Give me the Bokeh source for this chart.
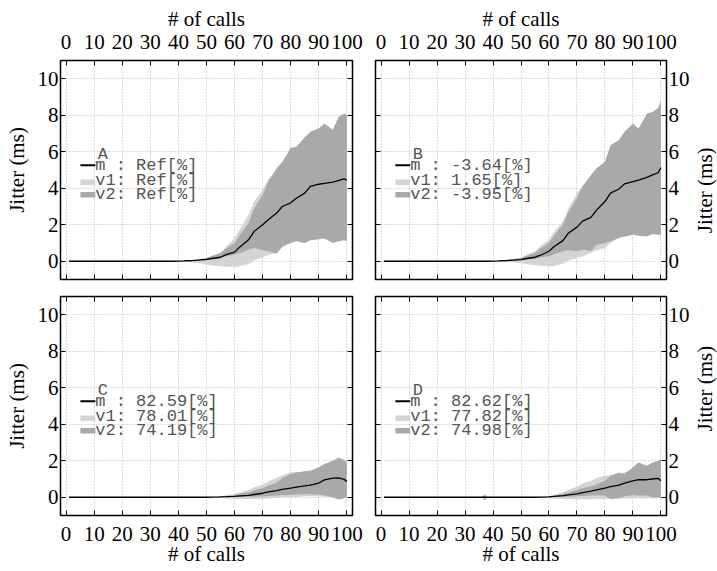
import math
from bokeh.plotting import figure
from bokeh.layouts import column, row
from bokeh.models import Range1d, LinearAxis, FixedTicker, Label, BoxAnnotation
from bokeh.embed import file_html
from bokeh.resources import INLINE

# ---------------- data ----------------
CALLS = [1, 10, 20, 30, 35, 36, 37, 38, 40, 42, 45, 47, 50, 52, 55, 57, 60, 62, 65, 67,
         70, 72, 75, 77, 80, 82, 85, 87, 90, 92, 95, 97, 99, 100]
X_TICKS = [0, 10, 20, 30, 40, 50, 60, 70, 80, 90, 100]
Y_TICKS = [0, 2, 4, 6, 8, 10]

Z8 = [0] * 8
A_m    = Z8 + [0.01, 0.02, 0.04, 0.06, 0.10, 0.15, 0.22, 0.36, 0.50, 0.80, 1.18, 1.64, 2.00, 2.27, 2.64, 3.00, 3.20, 3.45, 3.73, 4.10, 4.22, 4.27, 4.33, 4.42, 4.52, 4.44]
A_v2hi = Z8 + [0.01, 0.03, 0.06, 0.10, 0.18, 0.30, 0.45, 0.70, 1.00, 1.45, 2.10, 2.90, 3.64, 4.36, 5.10, 5.45, 6.20, 6.27, 6.80, 7.10, 7.27, 7.55, 7.20, 7.90, 8.10, 8.00]
A_v2lo = Z8 + [0.00, 0.00, 0.01, 0.03, 0.05, 0.10, 0.18, 0.27, 0.36, 0.45, 0.64, 0.73, 0.60, 0.55, 0.42, 0.80, 1.00, 1.10, 1.00, 1.15, 1.20, 1.25, 1.00, 1.10, 1.15, 1.10]
A_v1hi = Z8 + [0.01, 0.02, 0.05, 0.10, 0.18, 0.30, 0.45, 0.80, 1.27, 1.80, 2.55, 3.27, 3.90, 4.50, 5.00, 5.20, 5.80, 6.00, 6.30, 6.60, 6.80, 7.00, 7.00, 7.40, 7.50, 7.50]
A_v1lo = Z8 + [0.00, -0.02, -0.05, -0.10, -0.18, -0.23, -0.27, -0.30, -0.30, -0.28, -0.15, 0.05, 0.20, 0.35, 0.45, 0.80, 1.10, 1.20, 1.20, 1.30, 1.30, 1.35, 1.20, 1.25, 1.25, 1.20]

B_m    = Z8 + [0.01, 0.02, 0.04, 0.06, 0.09, 0.15, 0.22, 0.33, 0.55, 0.82, 1.13, 1.55, 1.87, 2.20, 2.40, 2.80, 3.27, 3.73, 3.96, 4.24, 4.36, 4.45, 4.60, 4.73, 4.85, 5.13]
B_v2hi = Z8 + [0.01, 0.03, 0.06, 0.10, 0.18, 0.30, 0.45, 0.70, 1.00, 1.45, 2.00, 2.73, 3.45, 4.10, 4.73, 5.10, 5.45, 6.36, 6.64, 7.10, 7.55, 7.27, 8.10, 8.18, 8.40, 8.80]
B_v2lo = Z8 + [0.00, 0.00, 0.01, 0.03, 0.05, 0.09, 0.13, 0.20, 0.27, 0.40, 0.55, 0.60, 0.55, 0.64, 0.55, 0.90, 1.00, 1.10, 1.27, 1.35, 1.45, 1.40, 1.36, 1.50, 1.45, 1.45]
B_v1hi = Z8 + [0.01, 0.03, 0.06, 0.12, 0.20, 0.35, 0.55, 0.85, 1.18, 1.64, 2.18, 2.90, 3.73, 4.15, 4.50, 5.00, 5.30, 6.00, 6.30, 6.80, 7.10, 7.00, 7.60, 7.80, 8.00, 8.20]
B_v1lo = Z8 + [0.00, -0.02, -0.04, -0.07, -0.10, -0.16, -0.22, -0.25, -0.27, -0.27, -0.13, 0.04, 0.18, 0.27, 0.45, 0.60, 0.73, 1.00, 1.30, 1.40, 1.50, 1.50, 1.45, 1.55, 1.50, 1.50]

Z12 = [0] * 12
C_m    = Z12 + [0.00, 0.01, 0.02, 0.03, 0.05, 0.07, 0.10, 0.15, 0.22, 0.29, 0.36, 0.43, 0.50, 0.56, 0.62, 0.67, 0.78, 0.95, 1.05, 1.06, 0.98, 0.87]
C_v2hi = Z12 + [0.00, 0.02, 0.04, 0.08, 0.13, 0.20, 0.27, 0.38, 0.50, 0.65, 0.80, 1.05, 1.27, 1.36, 1.42, 1.45, 1.64, 1.82, 2.00, 2.18, 2.05, 1.90]
C_v2lo = Z12 + [0.00, 0.00, 0.00, 0.01, 0.01, 0.02, 0.03, 0.03, 0.04, 0.07, 0.10, 0.12, 0.13, 0.15, 0.18, 0.17, 0.15, 0.10, 0.00, -0.13, -0.05, 0.00]
C_v1hi = Z12 + [0.01, 0.02, 0.05, 0.10, 0.18, 0.28, 0.40, 0.55, 0.69, 0.87, 1.05, 1.20, 1.36, 1.38, 1.40, 1.45, 1.60, 1.75, 1.90, 2.05, 1.95, 1.85]
C_v1lo = Z12 + [-0.01, -0.02, -0.04, -0.07, -0.09, -0.10, -0.10, -0.10, -0.09, -0.06, -0.04, -0.02, 0.00, 0.02, 0.05, 0.05, 0.05, 0.03, 0.00, -0.08, -0.04, 0.00]

D_m    = [0, 0, 0, 0, 0, 0, 0, 0, 0, 0, 0, 0, 0, 0, 0] + [0.01, 0.02, 0.05, 0.09, 0.13, 0.18, 0.25, 0.33, 0.41, 0.50, 0.58, 0.67, 0.78, 0.90, 0.96, 0.96, 1.00, 1.04, 0.90]
D_v2hi = [0, 0, 0, 0, 0, 0, 0.15, 0, 0, 0, 0, 0, 0, 0, 0] + [0.02, 0.04, 0.10, 0.18, 0.28, 0.40, 0.50, 0.60, 0.70, 0.90, 1.18, 1.36, 1.27, 1.64, 1.90, 1.73, 1.90, 2.00, 2.10]
D_v2lo = [0, 0, 0, 0, 0, 0, -0.15, 0, 0, 0, 0, 0, 0, 0, 0] + [0.00, 0.00, 0.01, 0.02, 0.03, 0.05, 0.07, 0.09, 0.09, 0.09, -0.10, -0.05, 0.05, 0.13, 0.10, 0.09, 0.00, -0.02, -0.04]
D_v1hi = [0, 0, 0, 0, 0, 0, 0.12, 0, 0, 0, 0, 0, 0, 0, 0] + [0.03, 0.07, 0.15, 0.27, 0.42, 0.58, 0.75, 0.90, 1.05, 1.18, 1.20, 1.30, 1.35, 1.50, 1.60, 1.60, 1.70, 1.75, 1.80]
D_v1lo = [0, 0, 0, 0, 0, 0, -0.12, 0, 0, 0, 0, 0, 0, 0, 0] + [-0.02, -0.04, -0.07, -0.09, -0.10, -0.11, -0.11, -0.11, -0.10, -0.10, -0.08, -0.08, -0.07, -0.06, -0.05, -0.05, -0.05, -0.05, -0.05]

PANEL_NAMES = ["A", "B", "C", "D"]
LEGEND_M  = ["Ref", "-3.64", "82.59", "82.62"]
LEGEND_V1 = ["Ref", "1.65", "78.01", "77.82"]
LEGEND_V2 = ["Ref", "-3.95", "74.19", "74.98"]

X_LABEL = "# of calls"
Y_LABEL = "Jitter (ms)"

# ---------------- style / layout ----------------
SERIF = "Liberation Serif"
MONO = "Liberation Mono"
FS = "21px"
LIGHT = "#d4d4d4"
DARK = "#a9a9a9"
TXT_GRAY = "#555555"
X0, X1 = -2, 102
Y0, Y1 = -1, 11

FRAME_H = 219
TOP_H, BOT_H = 286, 284
LEFT_W, RIGHT_W, LABEL_W = 363, 329, 25
TOP_BORDER_TOP, BOT_BORDER_TOP = 60, 10


def tick_only_axis(ticks):
    ax = LinearAxis(ticker=FixedTicker(ticks=ticks))
    ax.major_label_text_font_size = "1px"
    ax.major_label_text_color = None
    ax.major_label_standoff = 0
    ax.axis_line_color = None
    ax.major_tick_in = 5
    ax.major_tick_out = 0
    ax.major_tick_line_color = "black"
    ax.minor_tick_line_color = None
    return ax


def style_axis(ax, ticks):
    ax.ticker = FixedTicker(ticks=ticks)
    ax.axis_line_color = None
    ax.major_tick_in = 5
    ax.major_tick_out = 0
    ax.major_tick_line_color = "black"
    ax.minor_tick_line_color = None
    ax.major_label_text_font = SERIF
    ax.major_label_text_font_size = FS
    ax.major_label_text_color = "black"
    ax.axis_label_text_font = SERIF
    ax.axis_label_text_font_size = FS
    ax.axis_label_text_font_style = "normal"
    ax.axis_label_text_color = "black"


def make_panel(k, m, v1lo, v1hi, v2lo, v2hi, top, left):
    width = LEFT_W if left else RIGHT_W
    height = TOP_H if top else BOT_H
    p = figure(width=width, height=height,
               x_range=Range1d(X0, X1), y_range=Range1d(Y0, Y1),
               x_axis_location="above" if top else "below",
               y_axis_location="left" if left else "right",
               output_backend="svg", toolbar_location=None,
               min_border_left=60 if left else 12,
               min_border_right=11 if left else 26,
               min_border_top=TOP_BORDER_TOP if top else BOT_BORDER_TOP,
               min_border_bottom=7 if top else 55)
    p.background_fill_color = "white"
    p.border_fill_color = "white"
    p.outline_line_color = "black"
    p.outline_line_width = 1.5

    xa = p.xaxis[0]
    ya = p.yaxis[0]
    style_axis(xa, X_TICKS)
    style_axis(ya, Y_TICKS)
    xa.axis_label = X_LABEL
    if top:
        xa.major_label_standoff = 12
        xa.axis_label_standoff = 1
    else:
        xa.major_label_standoff = 11
        xa.axis_label_standoff = -2
    if left:
        ya.axis_label = Y_LABEL
        ya.major_label_standoff = 2
        ya.axis_label_standoff = 6
    else:
        ya.major_label_standoff = 2

    p.add_layout(tick_only_axis(X_TICKS), "below" if top else "above")
    p.add_layout(tick_only_axis(Y_TICKS), "right" if left else "left")

    for g, t in ((p.xgrid[0], X_TICKS), (p.ygrid[0], Y_TICKS)):
        g.ticker = FixedTicker(ticks=t)
        g.grid_line_color = "#b8b8b8"
        g.grid_line_dash = "1 2"
        g.grid_line_width = 1

    p.varea(x=CALLS, y1=v1lo, y2=v1hi, fill_color=LIGHT, fill_alpha=1.0)
    p.varea(x=CALLS, y1=v2lo, y2=v2hi, fill_color=DARK, fill_alpha=1.0)
    p.line(x=CALLS, y=m, line_color="black", line_width=1.3)

    # legend drawn inside the frame, like the original
    lx0, lx1 = 5.1, 10.4
    p.add_layout(BoxAnnotation(left=lx0, right=lx1, bottom=5.20, top=5.31,
                               fill_color="black", fill_alpha=1.0, line_color=None, level="overlay"))
    p.add_layout(BoxAnnotation(left=lx0, right=lx1, bottom=4.18, top=4.48,
                               fill_color=LIGHT, fill_alpha=1.0, line_color=None, level="overlay"))
    p.add_layout(BoxAnnotation(left=lx0, right=lx1, bottom=3.50, top=3.80,
                               fill_color=DARK, fill_alpha=1.0, line_color=None, level="overlay"))
    common = dict(text_font=MONO, text_font_size="17px", text_color=TXT_GRAY,
                  text_baseline="middle", text_align="left")
    p.add_layout(Label(x=11.3, y=5.85, text=PANEL_NAMES[k], **common))
    p.add_layout(Label(x=lx1, y=5.22, text="m : %s[%%]" % LEGEND_M[k], **common))
    p.add_layout(Label(x=lx1, y=4.40, text="v1: %s[%%]" % LEGEND_V1[k], **common))
    p.add_layout(Label(x=lx1, y=3.68, text="v2: %s[%%]" % LEGEND_V2[k], **common))
    return p


def side_label(height, border_top):
    # narrow strip holding the right-hand y-axis title, reading bottom-to-top
    f = figure(width=LABEL_W, height=height,
               x_range=Range1d(0, LABEL_W), y_range=Range1d(0, height),
               x_axis_type=None, y_axis_type=None,
               output_backend="svg", toolbar_location=None, min_border=0)
    f.outline_line_color = None
    f.background_fill_color = "white"
    f.border_fill_color = "white"
    yc = height - (border_top + FRAME_H / 2.0)
    f.add_layout(Label(x=LABEL_W / 2.0, y=yc, text=Y_LABEL, angle=math.pi / 2, angle_units="rad",
                       text_font=SERIF, text_font_size=FS, text_color="black",
                       text_align="center", text_baseline="middle"))
    return f


pA = make_panel(0, A_m, A_v1lo, A_v1hi, A_v2lo, A_v2hi, top=True, left=True)
pB = make_panel(1, B_m, B_v1lo, B_v1hi, B_v2lo, B_v2hi, top=True, left=False)
pC = make_panel(2, C_m, C_v1lo, C_v1hi, C_v2lo, C_v2hi, top=False, left=True)
pD = make_panel(3, D_m, D_v1lo, D_v1hi, D_v2lo, D_v2hi, top=False, left=False)
lB = side_label(TOP_H, TOP_BORDER_TOP)
lD = side_label(BOT_H, BOT_BORDER_TOP)

layout = column(row(pA, pB, lB), row(pC, pD, lD))
open("out.html", "w").write(file_html(layout, INLINE))
